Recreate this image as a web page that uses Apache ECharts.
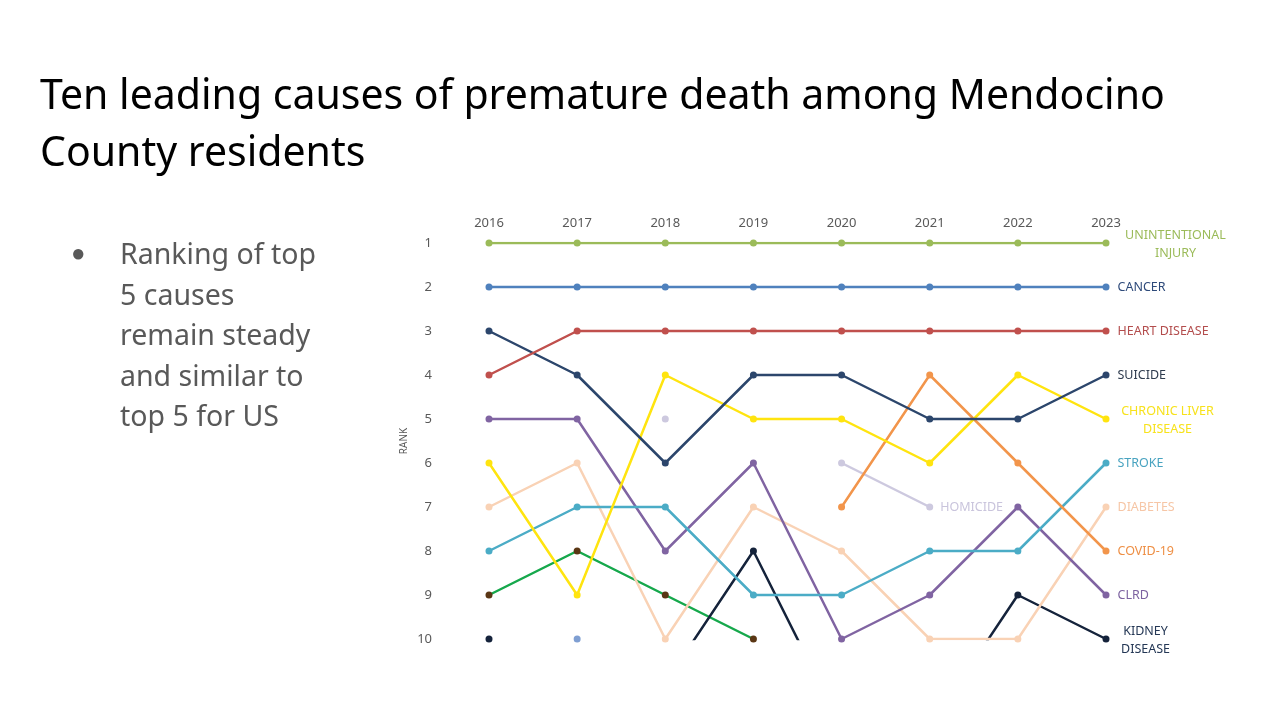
<!DOCTYPE html>
<html><head><meta charset="utf-8">
<script src="https://cdn.jsdelivr.net/npm/echarts@6/dist/echarts.min.js"></script>
<style>html,body{margin:0;padding:0;background:#fff}#c{width:1285px;height:713px}</style>
</head><body><div id="c"></div>
<script>
const years = ['2016','2017','2018','2019','2020','2021','2022','2023'];
const rankTicks = [1,2,3,4,5,6,7,8,9,10];
const unintentionalInjury = [1,1,1,1,1,1,1,1];
const cancer = [2,2,2,2,2,2,2,2];
const heartDisease = [4,3,3,3,3,3,3,3];
const suicide = [3,4,6,4,4,5,5,4];
const chronicLiverDisease = [6,9,4,5,5,6,4,5];
const stroke = [8,7,7,9,9,8,8,6];
const diabetes = [7,6,10,7,8,10,10,7];
const covid19 = [null,null,null,null,7,4,6,8];
const clrd = [5,5,8,6,10,9,7,9];
const kidneyDisease = [10,null,11,8,12,12,9,10];
const homicide = [null,null,5,null,6,7,null,null];
const otherCauseA = [9,8,9,10,null,null,null,null];
const otherCauseB = [null,10,null,null,null,null,null,null];

const FONT = 'Noto Sans';

function mk(name, values, color, opts) {
  opts = opts || {};
  const data = values.map((v, i) => {
    if (opts.labelIndex === i) {
      return { value: v, label: Object.assign({
        show: true, position: 'right', distance: 8,
        formatter: opts.labelText, color: opts.labelColor || color,
        fontFamily: FONT, fontSize: 12.5, lineHeight: 18
      }, opts.labelExtra || {}) };
    }
    return v;
  });
  return {
    name: name, type: 'line', data: data,
    symbol: 'circle', symbolSize: 7, showSymbol: true,
    connectNulls: false, clip: true, z: opts.z || 2,
    lineStyle: { color: color, width: 2.5 },
    itemStyle: { color: opts.markerColor || color },
    emphasis: { disabled: true },
    label: { show: false }
  };
}

const chart = echarts.init(document.getElementById('c'), null, { renderer: 'canvas' });
chart.setOption({
  animation: false,
  backgroundColor: '#ffffff',
  graphic: [
    { type: 'text', left: 40, top: 69, style: { text: 'Ten leading causes of premature death among Mendocino\nCounty residents', fontFamily: FONT, fontSize: 41, lineHeight: 57, fill: '#000000' } },
    { type: 'text', left: 71, top: 242, style: { text: '●', fontFamily: FONT, fontSize: 24, fill: '#595959' } },
    { type: 'text', left: 120, top: 236, style: { text: 'Ranking of top\n5 causes\nremain steady\nand similar to\ntop 5 for US', fontFamily: FONT, fontSize: 28.5, lineHeight: 40.5, fill: '#595959' } }
  ],
  grid: { left: 489, right: 179, top: 243, bottom: 74, containLabel: false },
  xAxis: {
    type: 'category', data: years, position: 'top', boundaryGap: false,
    axisLine: { show: false }, axisTick: { show: false }, splitLine: { show: false },
    axisLabel: { color: '#595959', fontFamily: FONT, fontSize: 13, margin: 13 }
  },
  yAxis: {
    type: 'value', inverse: true, min: 1, max: 10, interval: 1,
    name: 'RANK', nameLocation: 'middle', nameGap: 80, nameRotate: 90,
    nameTextStyle: { color: '#595959', fontFamily: FONT, fontSize: 10 },
    axisLine: { show: false }, axisTick: { show: false }, splitLine: { show: false },
    axisLabel: { color: '#595959', fontFamily: FONT, fontSize: 13, margin: 57,
      formatter: v => rankTicks.indexOf(v) >= 0 ? String(v) : '' }
  },
  series: [
    mk('Other cause B', otherCauseB, '#7f9fd2'),
    mk('Other cause A', otherCauseA, '#16a84c', { markerColor: '#5a3614' }),
    mk('Homicide', homicide, '#cdc9df', { labelIndex: 5, labelText: 'HOMICIDE', labelColor: '#c9c4dc', labelExtra: { distance: 7 } }),
    mk('Kidney disease', kidneyDisease, '#15233b', { labelIndex: 7, labelText: 'KIDNEY\nDISEASE', labelColor: '#243755', labelExtra: { align: 'center', offset: [28, 1] } }),
    mk('Diabetes', diabetes, '#f9d2b5', { labelIndex: 7, labelText: 'DIABETES', labelColor: '#f6c6a6' }),
    mk('CLRD', clrd, '#8064a2', { labelIndex: 7, labelText: 'CLRD', labelColor: '#7c62a0' }),
    mk('Stroke', stroke, '#4bacc6', { labelIndex: 7, labelText: 'STROKE', labelColor: '#48a3c0' }),
    mk('COVID-19', covid19, '#f2954b', { labelIndex: 7, labelText: 'COVID-19', labelColor: '#ee8f45' }),
    mk('Chronic liver disease', chronicLiverDisease, '#ffe40f', { labelIndex: 7, labelText: 'CHRONIC LIVER\nDISEASE', labelColor: '#f7e21c', labelExtra: { align: 'center', offset: [50, 1] } }),
    mk('Suicide', suicide, '#2c466c', { labelIndex: 7, labelText: 'SUICIDE', labelColor: '#2e3b4e' }),
    mk('Heart disease', heartDisease, '#c0504d', { labelIndex: 7, labelText: 'HEART DISEASE', labelColor: '#b34d4d' }),
    mk('Cancer', cancer, '#4f81bd', { labelIndex: 7, labelText: 'CANCER', labelColor: '#2e4a7a' }),
    mk('Unintentional injury', unintentionalInjury, '#9bbb59', { labelIndex: 7, labelText: 'UNINTENTIONAL\nINJURY', labelColor: '#9bbb59', labelExtra: { align: 'center', offset: [58, 1] } })
  ]
});
</script></body></html>
